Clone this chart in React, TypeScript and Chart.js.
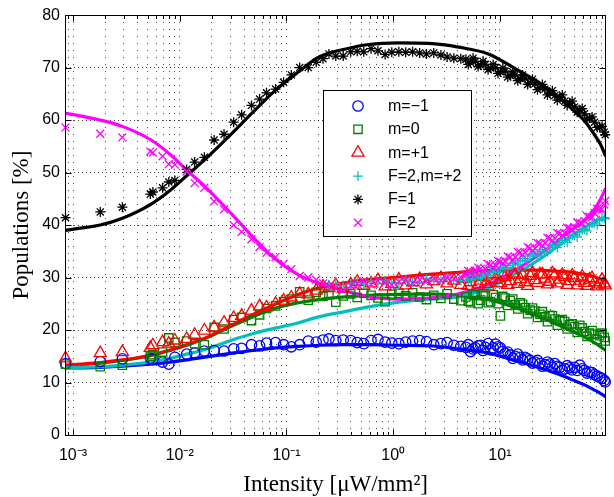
import React, { useEffect, useRef } from 'react';
import { Chart, registerables } from 'chart.js';
import { drawPoint } from 'chart.js/helpers';

Chart.register(...registerables);

// ---------- data ----------
const intensity = [
  0.00085, 0.0018, 0.0029, 0.0053, 0.0056, 0.0069, 0.0079, 0.009, 0.0116, 0.0138, 0.017, 0.021, 0.026, 0.032, 0.038, 0.047, 0.056, 0.065, 0.079, 0.094, 0.111, 0.133, 0.16,
  0.19, 0.22, 0.25, 0.29, 0.34, 0.40, 0.46, 0.53, 0.62, 0.72, 0.84, 0.97, 1.13, 1.31, 1.52, 1.77, 2.05, 2.4, 2.8, 3.2, 3.7, 4.3,
  4.8, 5.3, 5.9, 6.6, 7.3, 8.2, 9.1, 10.1, 11.2, 12.5, 13.9, 15.5, 17.2, 19.2, 21.3, 23.7, 26.4, 29.4, 32.7, 36.4, 40.5, 45, 50, 56, 62, 69, 77, 86, 95,
  5.05, 5.6, 6.25, 6.95, 7.75, 8.65, 9.6, 10.65, 11.85, 13.2, 14.7, 16.3, 18.2, 20.2, 22.5, 25.0, 27.9, 31.0, 34.5, 38.4, 42.7, 47.5, 53, 59, 65.5, 73, 81.5, 90.5, 97,
];

const popMm1 = [
  13.6, 14.0, 14.5, 14.6, 14.4, 13.9, 13.5, 14.8, 15.4, 15.6, 16.0, 16.1, 16.0, 16.4, 16.5, 17.2, 17.0, 17.5, 17.6, 17.2, 16.8, 17.2, 17.9,
  17.7, 18.1, 18.3, 18.0, 18.1, 18.0, 17.6, 17.4, 18.0, 18.2, 17.7, 17.5, 17.4, 17.7, 17.9, 18.0, 17.8, 17.2, 17.4, 17.6, 17.1, 16.9,
  16.7, 15.9, 16.6, 17.1, 16.7, 16.2, 17.3, 16.6, 15.6, 15.2, 15.0, 14.8, 14.8, 14.2, 13.9, 13.6, 13.4, 13.5, 13.6, 12.9, 12.6, 12.8, 12.9, 13.3, 12.3, 12.0, 11.5, 11.0, 10.4,
  17.2, 16.4, 17.0, 16.1, 17.4, 16.6, 16.8, 15.9, 15.8, 14.6, 15.4, 14.3, 14.5, 13.7, 14.2, 13.1, 13.9, 12.9, 13.1, 12.3, 13.2, 12.4, 12.3, 12.6, 11.8, 11.9, 11.2, 10.8, 10.1,
];

const popM0 = [
  13.5, 13.0, 13.3, 15.0, 15.3, 15.8, 18.5, 17.6, 17.9, 17.4, 17.2, 20.5, 20.2, 22.0, 22.4, 21.8, 22.9, 24.1, 24.6, 25.4, 25.9, 27.3, 25.7,
  27.2, 26.4, 26.8, 25.3, 26.5, 26.9, 26.2, 27.0, 26.6, 26.1, 25.4, 26.8, 27.0, 26.5, 27.1, 26.3, 25.8, 26.6, 26.0, 26.9, 25.9, 25.6,
  26.3, 25.2, 26.6, 25.7, 26.5, 25.4, 26.2, 22.7, 26.1, 25.6, 24.8, 25.2, 24.3, 23.8, 23.6, 23.0, 22.5, 22.8, 22.1, 21.8, 21.6, 21.0, 20.6, 20.9, 19.7, 19.4, 19.2, 18.9, 18.6,
  25.5, 26.8, 25.0, 26.9, 25.2, 26.7, 25.0, 26.4, 24.7, 25.9, 24.0, 24.9, 23.1, 24.2, 22.4, 23.5, 21.6, 22.7, 20.9, 22.0, 20.2, 21.2, 19.6, 20.4, 18.8, 19.9, 18.2, 19.4, 17.9,
];

const popMp1 = [
  14.6, 15.6, 15.8, 16.6, 17.1, 17.7, 17.4, 18.0, 18.3, 19.1, 19.9, 20.5, 21.4, 22.3, 22.7, 23.7, 24.5, 24.3, 25.0, 25.6, 26.2, 26.9, 26.8,
  27.5, 28.3, 28.0, 28.6, 27.9, 28.7, 29.2, 28.4, 28.9, 29.5, 28.3, 28.8, 29.6, 28.5, 29.1, 29.7, 28.7, 29.3, 29.9, 28.9, 29.4, 28.6,
  29.8, 29.1, 30.2, 29.4, 28.8, 30.4, 29.6, 29.0, 30.1, 29.3, 30.5, 29.7, 29.1, 30.3, 29.5, 30.6, 29.8, 29.2, 30.4, 29.6, 30.1, 29.3, 29.9, 29.4, 29.0, 29.6, 29.1, 28.7, 28.9,
  28.4, 30.6, 28.7, 30.2, 28.3, 30.7, 28.9, 30.4, 28.6, 30.8, 28.8, 30.5, 28.4, 30.9, 29.0, 30.6, 28.7, 30.8, 28.9, 30.5, 28.6, 30.4, 28.5, 30.2, 28.4, 29.9, 28.3, 29.6, 28.5,
];

const popF2m2 = [
  null, null, null, null, null, null, null, null, null, null, null, null, null, null, null, null, null, null, null, null, null, null, null,
  null, null, 28.6, 28.9, 28.4, 28.8, 29.1, 28.7, 29.3, 28.9, 29.4, 29.0, 28.8, 29.5, 29.2, 29.0, 29.7, 29.3, 29.6, 29.9, 29.5, 29.4,
  30.0, 29.7, 30.3, 30.1, 30.6, 30.9, 31.2, 31.6, 31.9, 32.3, 32.8, 33.2, 33.6, 34.1, 34.5, 34.9, 35.3, 35.7, 36.2, 36.6, 37.1, 37.6, 38.1, 38.7, 39.2, 39.8, 40.4, 40.9, 41.4,
  29.5, 30.3, 29.8, 30.7, 30.4, 31.3, 31.0, 32.0, 31.6, 32.7, 32.4, 33.6, 33.2, 34.5, 34.1, 35.3, 34.9, 36.1, 35.7, 37.0, 36.7, 38.0, 37.7, 39.1, 38.9, 40.3, 40.0, 41.4, 41.2,
];

const popF1 = [
  41.4, 42.5, 43.4, 45.9, 46.3, 47.1, 48.2, 48.5, 50.6, 52.0, 52.9, 56.2, 57.3, 59.6, 61.0, 62.8, 64.0, 65.2, 65.9, 67.2, 68.6, 70.0, 70.0,
  71.0, 71.7, 72.6, 72.2, 72.2, 73.0, 73.1, 73.0, 73.6, 73.2, 72.5, 72.9, 73.0, 72.9, 73.0, 72.8, 72.6, 72.8, 72.4, 72.0, 71.8, 71.7,
  71.6, 71.0, 71.2, 70.5, 70.6, 69.9, 70.0, 69.2, 69.3, 68.5, 68.6, 67.9, 67.9, 67.1, 66.9, 66.2, 65.9, 65.2, 64.7, 64.3, 63.6, 63.2, 62.5, 61.9, 61.2, 60.4, 59.6, 58.7, 57.7,
  70.6, 71.8, 70.2, 71.2, 69.6, 70.6, 68.9, 69.9, 68.2, 69.2, 67.5, 68.6, 66.8, 67.8, 65.8, 66.8, 64.8, 65.6, 63.8, 64.8, 62.8, 63.6, 61.5, 62.2, 60.2, 60.6, 58.6, 58.8, 57.2,
];

const popF2 = [
  58.6, 57.4, 56.7, 54.0, 53.8, 53.1, 51.6, 51.5, 50.2, 48.0, 47.1, 44.5, 43.0, 40.0, 38.7, 37.3, 35.8, 34.7, 33.9, 32.6, 31.6, 30.3, 30.0,
  29.6, 28.9, 28.4, 28.0, 27.6, 28.5, 28.8, 29.3, 28.7, 29.4, 29.0, 28.6, 29.2, 29.5, 29.0, 29.6, 29.3, 29.8, 29.5, 30.0, 29.7, 30.1,
  30.5, 31.0, 31.0, 31.7, 31.6, 32.4, 32.3, 33.0, 33.1, 33.9, 33.9, 34.8, 34.8, 35.6, 35.6, 36.5, 36.6, 37.5, 37.5, 38.4, 38.5, 39.4, 39.6, 40.4, 40.8, 41.6, 42.3, 43.1, 43.9,
  31.3, 30.6, 31.9, 31.2, 32.6, 31.9, 33.2, 32.7, 34.0, 33.3, 34.9, 34.3, 35.8, 35.1, 36.6, 36.0, 37.6, 37.0, 38.5, 38.0, 39.5, 39.0, 40.5, 40.3, 41.7, 41.5, 43.1, 43.0, 44.6,
];

// fitted curves
const fitIntensity = [0.00085, 0.00117, 0.0018, 0.0029, 0.0053, 0.0081, 0.0116, 0.0179, 0.031, 0.048, 0.08, 0.13, 0.2, 0.35, 0.59, 1.13, 2.15, 4.1, 7.8, 13.9, 22.8, 35, 48, 63, 78, 88, 98];
const fitMm1 = [12.8, 12.8, 12.9, 13.1, 13.5, 13.9, 14.3, 14.9, 15.6, 16.1, 16.6, 16.9, 17.1, 17.2, 17.2, 17.1, 17.0, 16.4, 15.6, 14.2, 12.9, 11.6, 10.5, 9.5, 8.5, 7.9, 7.3];
const fitM0 = [13.2, 13.4, 13.7, 14.2, 15.1, 16.1, 17.1, 18.5, 20.8, 22.5, 24.2, 25.2, 25.8, 26.3, 26.6, 26.8, 26.9, 26.6, 25.8, 24.3, 22.6, 21.0, 19.7, 18.6, 17.5, 16.8, 16.1];
const fitMp1 = [13.3, 13.5, 13.8, 14.3, 15.2, 16.2, 17.2, 18.6, 21.0, 22.9, 25.0, 26.8, 28.0, 29.0, 29.6, 30.1, 30.6, 31.0, 31.3, 31.4, 31.4, 31.2, 31.0, 30.6, 30.1, 29.7, 29.3];
const fitF2m2 = [12.8, 12.9, 13.0, 13.3, 13.9, 14.6, 15.4, 16.4, 18.1, 19.3, 20.4, 21.4, 22.5, 23.5, 24.4, 25.3, 25.9, 26.3, 28.0, 30.7, 33.3, 36.0, 38.0, 39.6, 40.7, 41.2, 41.5];
const fitF1 = [39.0, 39.4, 40.0, 41.3, 43.9, 46.6, 49.4, 52.8, 57.5, 61.4, 65.8, 69.2, 72.0, 73.5, 74.4, 74.7, 74.6, 73.9, 72.6, 69.8, 67.2, 64.5, 62.0, 59.7, 57.0, 55.3, 53.1];
const fitF2 = [61.3, 60.8, 60.0, 58.8, 56.3, 53.5, 50.5, 47.0, 42.0, 37.8, 33.4, 30.5, 28.9, 27.5, 26.3, 25.9, 26.1, 26.9, 28.7, 31.4, 34.2, 37.0, 39.2, 41.0, 43.2, 45.0, 47.0];

const seriesLabels = ['m=\u22121', 'm=0', 'm=+1', 'F=2,m=+2', 'F=1', 'F=2'];
const seriesColors = ['#0000ff', '#008000', '#ff0000', '#00bfbf', '#000000', '#ff00ff'];
const seriesMarkers = ['circle', 'rect', 'triangle', 'cross', 'star', 'crossRot'];
const markerRadii = [5.2, 5.9, 7, 4.8, 5, 5.6];

const X_MIN = 0.00085;
const X_MAX = 98;
const xMajorTicks = [0.001, 0.01, 0.1, 1, 10];
const xMajorLabels = ['10\u207B\u00B3', '10\u207B\u00B2', '10\u207B\u00B9', '10\u2070', '10\u00B9'];
const Y_MIN = 0;
const Y_MAX = 80;
const Y_STEP = 10;

const xTitle = 'Intensity [\u03BCW/mm\u00B2]';
const yTitle = 'Populations [%]';

function isDecade(v: number) {
  const lg = Math.log10(v);
  return Math.abs(lg - Math.round(lg)) < 1e-6;
}

const framePlugin = {
  id: 'matlabFrame',
  afterDraw(chart: any) {
    const { ctx, chartArea: a } = chart;
    const xs = chart.scales.x;
    const ys = chart.scales.y;
    ctx.save();
    ctx.setLineDash([]);
    ctx.strokeStyle = '#000';
    ctx.lineWidth = 1;
    const L = Math.floor(a.left) + 0.5;
    const R = Math.floor(a.right) + 0.5;
    const T = Math.floor(a.top) + 0.5;
    const B = Math.floor(a.bottom) + 0.5;
    ctx.beginPath();
    xs.ticks.forEach((t: any) => {
      const px = Math.round(xs.getPixelForValue(t.value)) + 0.5;
      const len = isDecade(t.value) ? 6 : 3.5;
      ctx.moveTo(px, B); ctx.lineTo(px, B - len);
      ctx.moveTo(px, T); ctx.lineTo(px, T + len);
    });
    ys.ticks.forEach((t: any) => {
      const py = Math.round(ys.getPixelForValue(t.value)) + 0.5;
      ctx.moveTo(L, py); ctx.lineTo(L + 6, py);
      ctx.moveTo(R, py); ctx.lineTo(R - 6, py);
    });
    ctx.stroke();
    ctx.strokeRect(L, T, R - L, B - T);

    // legend box
    const bx = 323.5, by = 90.5, bw = 148, bh = 146;
    ctx.fillStyle = '#ffffff';
    ctx.fillRect(bx, by, bw, bh);
    ctx.strokeStyle = '#000';
    ctx.strokeRect(bx, by, bw, bh);
    ctx.font = '16px "Liberation Sans", Arial, sans-serif';
    ctx.textBaseline = 'middle';
    ctx.textAlign = 'left';
    seriesLabels.forEach((lab, i) => {
      const cy = 106 + i * 23.35;
      ctx.save();
      ctx.strokeStyle = seriesColors[i];
      ctx.fillStyle = 'rgba(0,0,0,0)';
      ctx.lineWidth = 1.3;
      drawPoint(ctx, { pointStyle: seriesMarkers[i], radius: markerRadii[i], rotation: 0, borderWidth: 1.3 }, 358, cy);
      ctx.restore();
      ctx.fillStyle = '#000';
      ctx.fillText(lab, 388, cy + 0.5);
    });
    ctx.restore();
  },
};

export default function App() {
  const ref = useRef<HTMLCanvasElement>(null);

  useEffect(() => {
    const canvas = ref.current;
    if (!canvas) return;

    const pts = (xs: number[], vals: (number | null)[]) =>
      xs.map((x, i) => ({ x, y: vals[i] })).filter((p) => p.y !== null && p.y !== undefined);

    const markerSets = [popMm1, popM0, popMp1, popF2m2, popF1, popF2];
    const fitSets = [fitMm1, fitM0, fitMp1, fitF2m2, fitF1, fitF2];

    const datasets: any[] = [];
    markerSets.forEach((vals, i) => {
      datasets.push({
        label: seriesLabels[i],
        data: pts(intensity, vals as any),
        showLine: false,
        pointStyle: seriesMarkers[i],
        pointRadius: markerRadii[i],
        pointHoverRadius: markerRadii[i],
        pointBorderColor: seriesColors[i],
        pointBackgroundColor: 'rgba(0,0,0,0)',
        pointBorderWidth: 1.3,
        borderColor: seriesColors[i],
        order: 10 + (5 - i),
        clip: false,
      });
    });
    fitSets.forEach((vals, i) => {
      datasets.push({
        label: seriesLabels[i] + ' fit',
        data: pts(fitIntensity, vals),
        showLine: true,
        borderColor: seriesColors[i],
        backgroundColor: seriesColors[i],
        borderWidth: 3.2,
        pointRadius: 0,
        pointHoverRadius: 0,
        cubicInterpolationMode: 'monotone',
        fill: false,
        order: 20 + (5 - i),
      });
    });

    const xGridValues: number[] = [];
    for (let e = -4; e <= 2; e++) {
      for (let m = 1; m <= 9; m++) {
        const v = m * Math.pow(10, e);
        if (v >= X_MIN && v <= X_MAX) xGridValues.push(v);
      }
    }

    const chart = new Chart(canvas, {
      type: 'scatter',
      data: { datasets },
      plugins: [framePlugin],
      options: {
        responsive: false,
        animation: false,
        devicePixelRatio: 1,
        events: [],
        layout: { padding: { left: 0, right: 6, top: 13, bottom: 0 } },
        plugins: { legend: { display: false }, tooltip: { enabled: false } },
        scales: {
          x: {
            type: 'logarithmic',
            min: X_MIN,
            max: X_MAX,
            bounds: 'data',
            afterBuildTicks: (scale: any) => {
              scale.ticks = xGridValues.map((v) => ({ value: v }));
            },
            afterFit: (scale: any) => {
              scale.height = 62;
            },
            ticks: {
              autoSkip: false,
              maxRotation: 0,
              minRotation: 0,
              padding: 10.7,
              color: '#000',
              font: { family: '"Liberation Sans", Arial, sans-serif', size: 16 },
              callback: (v: any) => {
                const idx = xMajorTicks.findIndex((t) => Math.abs(Math.log10(t) - Math.log10(Number(v))) < 1e-6);
                return idx >= 0 ? xMajorLabels[idx] : '';
              },
            },
            grid: { color: 'rgba(0,0,0,0.75)', lineWidth: 1, drawTicks: false, tickLength: 0 },
            border: { display: false, dash: [1, 6] },
            title: {
              display: true,
              text: xTitle,
              color: '#000',
              font: { family: '"Liberation Serif", "Times New Roman", serif', size: 23, lineHeight: 1 },
              padding: { top: 0, bottom: 0.5 },
            },
          },
          y: {
            type: 'linear',
            min: Y_MIN,
            max: Y_MAX,
            afterFit: (scale: any) => {
              scale.width = 65.5;
            },
            ticks: {
              stepSize: Y_STEP,
              padding: 5.5,
              color: '#000',
              font: { family: '"Liberation Sans", Arial, sans-serif', size: 16 },
            },
            grid: { color: 'rgba(0,0,0,0.75)', lineWidth: 1, drawTicks: false, tickLength: 0 },
            border: { display: false, dash: [1, 3] },
            title: {
              display: true,
              text: yTitle,
              color: '#000',
              font: { family: '"Liberation Serif", "Times New Roman", serif', size: 23, lineHeight: 1 },
              padding: { top: 10.5, bottom: 0 },
            },
          },
        },
      } as any,
    });

    return () => chart.destroy();
  }, []);

  return (
    <div style={{ position: 'fixed', left: 0, top: 0, width: 614, height: 497, background: '#fff' }}>
      <canvas ref={ref} width={614} height={497} style={{ display: 'block' }} />
    </div>
  );
}
